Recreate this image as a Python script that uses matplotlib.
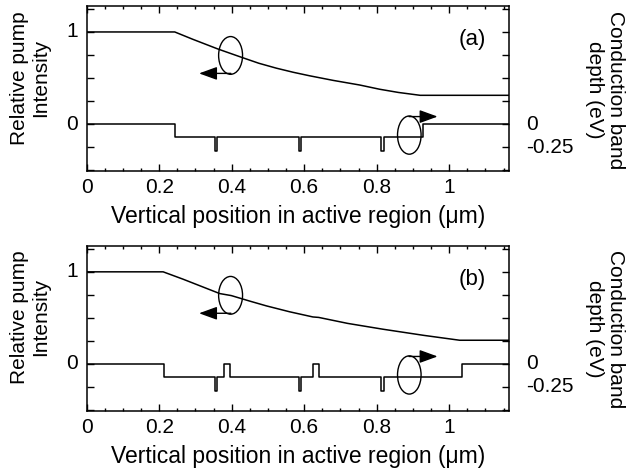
import matplotlib
matplotlib.use("Agg")
import matplotlib.pyplot as plt
from matplotlib.patches import Ellipse
from matplotlib.ticker import MultipleLocator, FixedLocator, FixedFormatter

plt.rcParams['font.family'] = ['Liberation Sans', 'DejaVu Sans']

# panel (a): pump intensity along the active region
pump_a_x = [0.0, 0.243, 0.293, 0.362, 0.427, 0.475, 0.523, 0.57, 0.615, 0.68, 0.753,
            0.808, 0.86, 0.92, 1.165]
pump_a_y = [1.0, 1.0, 0.92, 0.815, 0.725, 0.66, 0.607, 0.562, 0.524, 0.474, 0.424,
            0.378, 0.343, 0.312, 0.312]

# panel (a): conduction band profile (eV)
band_a_x = [0.0, 0.243, 0.243, 0.353, 0.353, 0.359, 0.359, 0.585, 0.585, 0.591, 0.591,
            0.813, 0.813, 0.819, 0.819, 0.928, 0.928, 1.165]
band_a_y = [0.0, 0.0, -0.145, -0.145, -0.29, -0.29, -0.145, -0.145, -0.29, -0.29, -0.145,
            -0.145, -0.29, -0.29, -0.145, -0.145, 0.0, 0.0]

# panel (b)
pump_b_x = [0.0, 0.211, 0.266, 0.367, 0.399, 0.45, 0.496, 0.56, 0.624, 0.64, 0.72,
            0.817, 0.93, 1.029, 1.165]
pump_b_y = [1.0, 1.0, 0.92, 0.764, 0.742, 0.682, 0.63, 0.566, 0.51, 0.505, 0.44,
            0.377, 0.31, 0.257, 0.257]

band_b_x = [0.0, 0.212, 0.212, 0.353, 0.353, 0.359, 0.359, 0.380, 0.380, 0.396, 0.396,
            0.585, 0.585, 0.591, 0.591, 0.624, 0.624, 0.640, 0.640,
            0.813, 0.813, 0.819, 0.819, 1.035, 1.035, 1.165]
band_b_y = [0.0, 0.0, -0.145, -0.145, -0.29, -0.29, -0.145, -0.145, 0.0, 0.0, -0.145,
            -0.145, -0.29, -0.29, -0.145, -0.145, 0.0, 0.0, -0.145,
            -0.145, -0.29, -0.29, -0.145, -0.145, 0.0, 0.0]

x_ticks = [0, 0.2, 0.4, 0.6, 0.8, 1]
x_labels = ['0', '0.2', '0.4', '0.6', '0.8', '1']

fig = plt.figure(figsize=(6.28, 4.75), dpi=100)
ax_a = fig.add_axes([0.138, 0.640, 0.6725, 0.347])
ax_b = fig.add_axes([0.138, 0.135, 0.6725, 0.347])

arrow_style = '-|>,head_length=1.1,head_width=0.4'


def style_panel(ax, pump_x, pump_y, band_x, band_y, tag):
    ax.plot(pump_x, pump_y, color='black', lw=1.1)
    ax.plot(band_x, band_y, color='black', lw=1.1)
    ax.set_xlim(0, 1.165)
    ax.set_ylim(-0.51, 1.28)

    ax.xaxis.set_major_locator(FixedLocator(x_ticks))
    ax.xaxis.set_major_formatter(FixedFormatter(x_labels))
    ax.xaxis.set_minor_locator(MultipleLocator(0.05))
    ax.yaxis.set_major_locator(MultipleLocator(0.25))
    ax.set_yticklabels([])
    ax.tick_params(axis='both', which='major', direction='in', length=5, width=1,
                   top=True, right=True, labelsize=15)
    ax.tick_params(axis='both', which='minor', direction='in', length=2.5, width=1,
                   top=True, right=False, left=False)
    ax.tick_params(axis='x', pad=5)
    for s in ax.spines.values():
        s.set_linewidth(1.1)

    # left labels 0 and 1, right labels 0 and -0.25
    for v, t in [(1, '1'), (0, '0')]:
        ax.text(-0.02, v, t, transform=ax.get_yaxis_transform(), ha='right',
                va='center', fontsize=15)
    for v, t in [(0, '0'), (-0.25, '-0.25')]:
        ax.text(1.04, v, t, transform=ax.get_yaxis_transform(), ha='left',
                va='center', fontsize=15)

    ax.set_xlabel('Vertical position in active region (\u03bcm)', fontsize=16.5, labelpad=6)
    ax.text(1.065, 0.92, tag, ha='center', va='center', fontsize=16)

    # ellipses with arrows
    ax.add_patch(Ellipse((0.397, 0.745), 0.066, 0.41, fill=False, ec='black', lw=1.0))
    ax.annotate('', xy=(0.31, 0.55), xytext=(0.398, 0.55),
                arrowprops=dict(arrowstyle=arrow_style, color='black', lw=1.0,
                                shrinkA=0, shrinkB=0))
    ax.add_patch(Ellipse((0.890, -0.12), 0.065, 0.415, fill=False, ec='black', lw=1.0))
    ax.annotate('', xy=(0.968, 0.081), xytext=(0.889, 0.081),
                arrowprops=dict(arrowstyle=arrow_style, color='black', lw=1.0,
                                shrinkA=0, shrinkB=0))


style_panel(ax_a, pump_a_x, pump_a_y, band_a_x, band_a_y, '(a)')
style_panel(ax_b, pump_b_x, pump_b_y, band_b_x, band_b_y, '(b)')

for yc_l, yc_r in [(78, 90), (317, 329)]:
    fig.text(30 / 628, 1 - yc_l / 475, 'Relative pump\nIntensity', rotation=90,
             ha='center', va='center', multialignment='center', fontsize=15,
             linespacing=1.1)
    fig.text(605 / 628, 1 - yc_r / 475, 'Conduction band\ndepth (eV)', rotation=270,
             ha='center', va='center', multialignment='center', fontsize=15,
             linespacing=1.1)

fig.savefig('out.png', dpi=100)
